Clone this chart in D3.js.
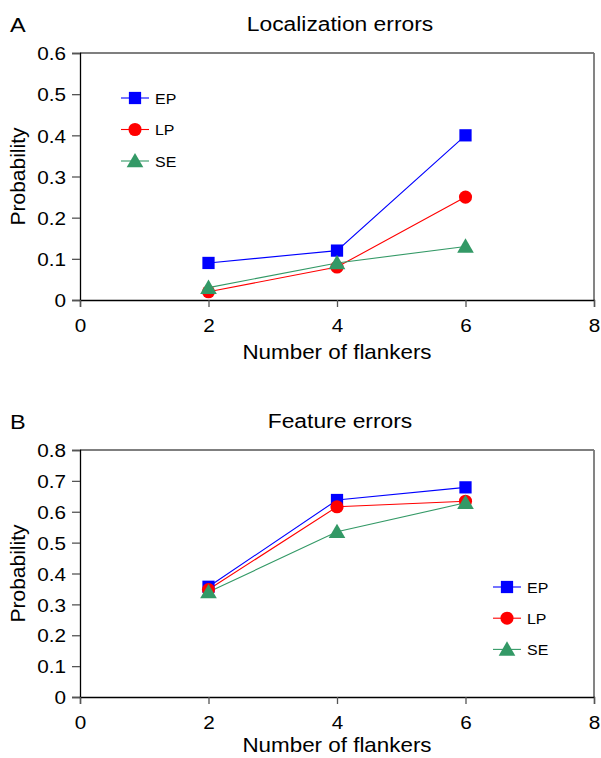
<!DOCTYPE html>
<html>
<head>
<meta charset="utf-8">
<script src="https://cdn.jsdelivr.net/npm/d3@7"></script>
<style>
  html, body { margin: 0; padding: 0; background: #fff; }
  svg { display: block; font-family: "Liberation Sans", Arial, Helvetica, sans-serif; }
</style>
</head>
<body>
<svg id="chart" width="601" height="758"></svg>
<script>
// ---- data ----
const flankers = [2, 4, 6];
const seriesNames = ["EP", "LP", "SE"];
const locEP = [0.09, 0.12, 0.40];
const locLP = [0.02, 0.08, 0.25];
const locSE = [0.03, 0.09, 0.13];
const featEP = [0.357, 0.638, 0.679];
const featLP = [0.348, 0.616, 0.634];
const featSE = [0.340, 0.535, 0.629];
const xTicks = [0, 2, 4, 6, 8];
const locYTicks = [0, 0.1, 0.2, 0.3, 0.4, 0.5, 0.6];
const featYTicks = [0, 0.1, 0.2, 0.3, 0.4, 0.5, 0.6, 0.7, 0.8];

const colors = { EP: "#0000ff", LP: "#ff0000", SE: "#339966" };
const shapes = { EP: d3.symbolSquare, LP: d3.symbolCircle, SE: d3.symbolTriangle };
const sizes = { EP: 150, LP: 135, SE: 120 };

const svg = d3.select("#chart");
const SX = 1.12; // horizontal stretch of text

function stretchedText(g, x, y, txt, size, anchor, sx) {
  return g.append("text")
    .attr("transform", `translate(${x},${y}) scale(${sx || SX},1)`)
    .attr("text-anchor", anchor || "start")
    .attr("font-size", size)
    .attr("fill", "#000")
    .text(txt);
}

function panel(opts) {
  const { top, bottom, yMax, yTicks, data, letter, title, legend, xTitleOffset } = opts;
  const left = 80, right = 594;
  const x = d3.scaleLinear().domain([0, 8]).range([left, right]);
  const y = d3.scaleLinear().domain([0, yMax]).range([bottom, top]);
  const g = svg.append("g");

  // top and right frame
  g.append("line").attr("x1", left).attr("x2", right).attr("y1", top).attr("y2", top)
    .attr("stroke", "#555").attr("stroke-width", 1.5);
  g.append("line").attr("x1", right).attr("x2", right).attr("y1", top).attr("y2", bottom)
    .attr("stroke", "#777").attr("stroke-width", 1.8);

  // y axis
  const yAxis = d3.axisLeft(y).tickValues(yTicks).tickSize(8)
    .tickFormat(d => d === 0 ? "0" : d3.format(".1f")(d));
  const ya = g.append("g").attr("transform", `translate(${left},0)`).call(yAxis);
  ya.select(".domain").attr("stroke", "#000").attr("stroke-width", 1.3);
  ya.selectAll(".tick line").attr("stroke", "#555").attr("stroke-width", 1.3);
  ya.selectAll(".tick text").attr("font-size", 18.5).attr("fill", "#000")
    .attr("font-family", "Liberation Sans, Arial, sans-serif")
    .attr("x", -12.5).attr("dy", "0.36em")
    .attr("transform", `scale(${SX},1)`);

  // x axis
  const xAxis = d3.axisBottom(x).tickValues(xTicks).tickSize(7).tickFormat(d3.format("d"));
  const xa = g.append("g").attr("transform", `translate(0,${bottom})`).call(xAxis);
  xa.select(".domain").attr("stroke", "#000").attr("stroke-width", 1.3);
  xa.selectAll(".tick line").attr("stroke", "#555").attr("stroke-width", 1.3);
  xa.selectAll(".tick text").attr("font-size", 18.5).attr("fill", "#000")
    .attr("font-family", "Liberation Sans, Arial, sans-serif")
    .attr("y", 32).attr("dy", 0)
    .attr("transform", `scale(${SX},1)`);

  // labels
  stretchedText(g, 10, top - 21, letter, 21, "start");
  stretchedText(g, 340, top - 22, title, 19.5, "middle", 1.17);
  stretchedText(g, 337, bottom + xTitleOffset, "Number of flankers", 20, "middle", 1.12);
  g.append("text")
    .attr("transform", `translate(25,${(top + bottom) / 2}) rotate(-90)`)
    .attr("text-anchor", "middle").attr("font-size", 21).attr("fill", "#000")
    .text("Probability");

  // series
  const line = d3.line().x((d, i) => x(flankers[i])).y(d => y(d));
  seriesNames.forEach(name => {
    const vals = data[name];
    g.append("path").attr("d", line(vals)).attr("fill", "none")
      .attr("stroke", colors[name]).attr("stroke-width", 1.1);
  });
  seriesNames.forEach(name => {
    const vals = data[name];
    g.selectAll(null).data(vals).enter().append("path")
      .attr("d", d3.symbol(shapes[name], sizes[name]))
      .attr("transform", (d, i) => `translate(${x(flankers[i])},${y(d) + (name === "SE" ? 1.5 : 0)})`)
      .attr("fill", colors[name]);
  });

  // legend
  seriesNames.forEach((name, i) => {
    const ly = legend.y + i * legend.dy;
    g.append("line").attr("x1", legend.x - 14).attr("x2", legend.x + 14)
      .attr("y1", ly).attr("y2", ly).attr("stroke", colors[name]).attr("stroke-width", 1.1);
    g.append("path").attr("d", d3.symbol(shapes[name], sizes[name]))
      .attr("transform", `translate(${legend.x},${ly + (name === "SE" ? 1.5 : 0)})`)
      .attr("fill", colors[name]);
    stretchedText(g, legend.x + 20, ly + 5.5, name, 14.5, "start", 1.1);
  });
}

panel({
  top: 53, bottom: 300, yMax: 0.6, yTicks: locYTicks,
  data: { EP: locEP, LP: locLP, SE: locSE },
  letter: "A", title: "Localization errors",
  legend: { x: 135, y: 98, dy: 31.5 }, xTitleOffset: 59
});
panel({
  top: 450, bottom: 697, yMax: 0.8, yTicks: featYTicks,
  data: { EP: featEP, LP: featLP, SE: featSE },
  letter: "B", title: "Feature errors",
  legend: { x: 507, y: 587, dy: 31.2 }, xTitleOffset: 55
});
</script>
</body>
</html>
